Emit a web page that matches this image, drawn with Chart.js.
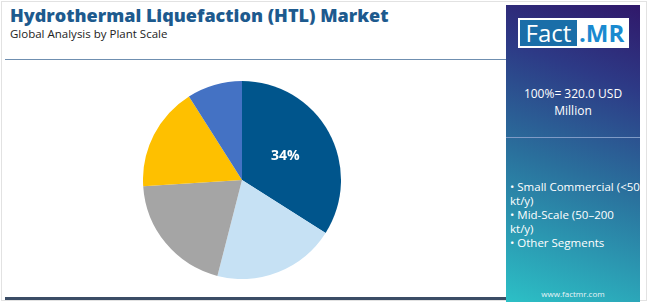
<!DOCTYPE html>
<html>
<head>
<meta charset="utf-8">
<script src="https://cdn.jsdelivr.net/npm/chart.js@4"></script>
<style>
  html, body { margin: 0; padding: 0; background: #fff; }
  body { width: 650px; height: 302px; position: relative; overflow: hidden; font-family: "Open Sans", "Noto Sans", sans-serif; }
  .card { position: absolute; left: 1px; top: 1px; width: 646px; height: 300px; border: 1px solid #e2e2e2; box-sizing: border-box; }
  .title { position: absolute; left: 10px; top: 3px; font-size: 18px; line-height: 24px; font-weight: 800; color: #1d5a8e; white-space: nowrap; }
  .subtitle { position: absolute; left: 10px; top: 26px; font-size: 11.5px; line-height: 15px; color: #222; }
  .topline { position: absolute; left: 5px; top: 59px; width: 501px; height: 1px; background: #6f8fb0; }
  .bottomline { position: absolute; left: 5px; top: 297px; width: 501px; height: 3px; background: #3b4d66; }
  .chartbox { position: absolute; left: 143px; top: 81px; width: 198px; height: 198px; }
  .panel { position: absolute; left: 506px; top: 5px; width: 134px; height: 297px;
           background: linear-gradient(20deg, #2cc0c6 0%, #2a6f9c 45%, #2d3a86 75%, #30186a 100%); color: #fff; }
  .logo { position: absolute; left: 12px; top: 13px; width: 111px; height: 30px; background: #fff; }
  .logo .fact { position: absolute; left: 2px; top: 2px; width: 57px; height: 26px; background: #1a6ea8; color: #fff;
                font-size: 24px; line-height: 26px; text-align: center; font-family: "Open Sans", sans-serif; }
  .logo .mr { position: absolute; left: 61px; top: 2px; font-size: 24px; line-height: 26px; color: #1a8ad0; font-weight: 700; font-family: "Open Sans", sans-serif; }
  .total { position: absolute; left: 0; top: 80px; width: 134px; text-align: center; font-size: 12px; line-height: 17px; }
  .sep { position: absolute; left: 0; top: 132px; width: 134px; height: 1px; background: #7f9ac6; }
  .legend { position: absolute; left: 4px; top: 175px; width: 130px; font-size: 11.5px; line-height: 14px; }
  .url { position: absolute; left: 0; top: 283px; width: 134px; text-align: center; font-size: 8px; color: #e8f4f8; }
</style>
</head>
<body>
<div class="card"></div>
<div class="title">Hydrothermal Liquefaction (HTL) Market</div>
<div class="subtitle">Global Analysis by Plant Scale</div>
<div class="topline"></div>
<div class="bottomline"></div>
<div class="chartbox"><canvas id="pieChart"></canvas></div>
<div class="panel">
  <div class="logo"><div class="fact">Fact</div><div class="mr">.MR</div></div>
  <div class="total" id="totalText"></div>
  <div class="sep"></div>
  <div class="legend" id="legendBox"></div>
  <div class="url">www.factmr.com</div>
</div>
<script>
// Segment data (clockwise from 12 o'clock)
const segments = ['Small Commercial (<50 kt/y)', 'Mid-Scale (50-200 kt/y)', 'Segment 3', 'Segment 4', 'Other Segments'];
const shares = [34, 20, 20, 17, 9];
const sliceColors = ['#00558c', '#c6e1f4', '#a5a5a5', '#fec000', '#4472c4'];
const legendItems = ['Small Commercial (<50 kt/y)', 'Mid-Scale (50–200 kt/y)', 'Other Segments'];
const marketTotal = '320.0';

document.getElementById('totalText').innerHTML = `100%= ${marketTotal} USD<br>Million`;
document.getElementById('legendBox').innerHTML = legendItems.map(t => `• ${t.replace('<', '&lt;')}`).join('<br>');

// Only the largest slice carries a label
const sliceLabel = {
  id: 'sliceLabel',
  afterDatasetsDraw(chart) {
    const ctx = chart.ctx;
    const arc = chart.getDatasetMeta(0).data[0];
    const pos = arc.tooltipPosition();
    ctx.save();
    ctx.fillStyle = '#fff';
    ctx.font = 'bold 14px "Open Sans", sans-serif';
    ctx.textAlign = 'center';
    ctx.textBaseline = 'middle';
    ctx.fillText(shares[0] + '%', pos.x, pos.y);
    ctx.restore();
  }
};

new Chart(document.getElementById('pieChart'), {
  type: 'pie',
  data: {
    labels: segments,
    datasets: [{
      data: shares,
      backgroundColor: sliceColors,
      borderWidth: 0
    }]
  },
  options: {
    responsive: true,
    maintainAspectRatio: false,
    animation: false,
    layout: { padding: 0 },
    plugins: { legend: { display: false }, tooltip: { enabled: false } }
  },
  plugins: [sliceLabel]
});
</script>
</body>
</html>
